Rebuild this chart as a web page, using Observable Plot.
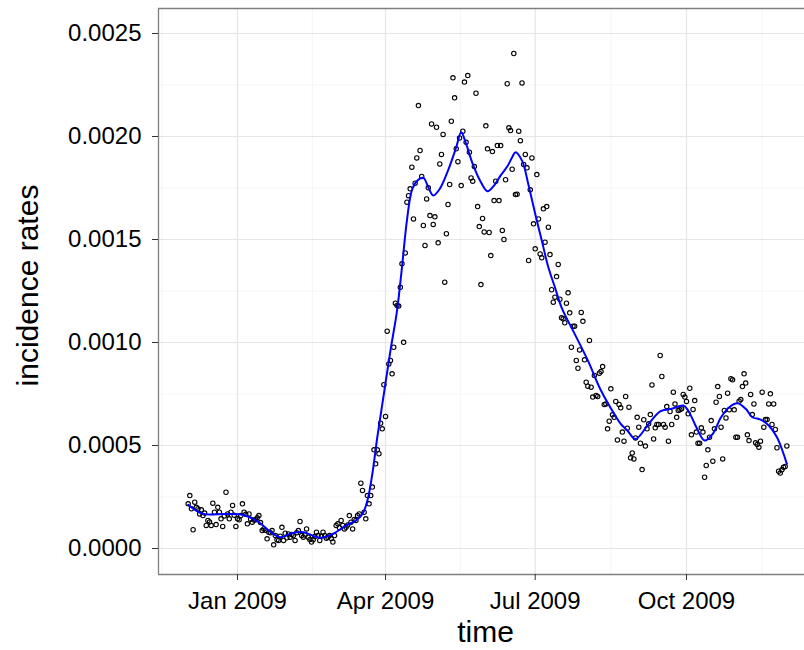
<!DOCTYPE html>
<html>
<head>
<meta charset="utf-8">
<script src="https://cdn.jsdelivr.net/npm/d3@7"></script>
<script src="https://cdn.jsdelivr.net/npm/@observablehq/plot@0.6"></script>
<style>
  body { margin: 0; background: #fff; }
  #chart svg { display: block; }
</style>
</head>
<body>
<div id="chart"></div>
<script>
// Daily incidence rates, one value per day starting on the date below.
const startDate = "2008-12-02";
const rates = [
  0.000217, 0.000257, 0.000193, 0.000091, 0.000225, 0.000200, 0.000193, 0.000168, 0.000188, 0.000160,
  0.000172, 0.000112, 0.000136, 0.000129, 0.000112, 0.000220, 0.000176, 0.000116, 0.000200, 0.000176,
  0.000144, 0.000107, 0.000158, 0.000273, 0.000168, 0.000144, 0.000176, 0.000209, 0.000162, 0.000107,
  0.000144, 0.000139, 0.000160, 0.000217, 0.000176, 0.000166, 0.000120, 0.000168, 0.000142, 0.000128,
  0.000138, 0.000139, 0.000149, 0.000160, 0.000126, 0.000087, 0.000095, 0.000089, 0.000047, 0.000079,
  0.000076, 0.000087, 0.000018, 0.000063, 0.000042, 0.000039, 0.000060, 0.000103, 0.000039, 0.000074,
  0.000052, 0.000071, 0.000055, 0.000068, 0.000063, 0.000039, 0.000077, 0.000087, 0.000131, 0.000063,
  0.000055, 0.000066, 0.000095, 0.000055, 0.000044, 0.000031, 0.000042, 0.000058, 0.000079, 0.000063,
  0.000039, 0.000059, 0.000079, 0.000063, 0.000050, 0.000055, 0.000063, 0.000048, 0.000031, 0.000063,
  0.000112, 0.000120, 0.000101, 0.000136, 0.000112, 0.000095, 0.000103, 0.000114, 0.000160, 0.000128,
  0.000095, 0.000141, 0.000136, 0.000160, 0.000168, 0.000317, 0.000282, 0.000176, 0.000144, 0.000257,
  0.000217, 0.000257, 0.000298,
  0.000479, 0.000411, 0.000479, 0.000460, 0.000608, 0.000581, 0.000795, 0.000641, 0.001055, 0.000896,
  0.000913, 0.000848, 0.000977, 0.001191, 0.001180, 0.001177, 0.001268, 0.001382, 0.001001, 0.001435,
  0.001681, 0.001713, 0.001746, 0.001851, 0.001600, 0.001773, 0.001896, 0.002150, 0.001932, 0.001806,
  0.001568, 0.001471, 0.001697, 0.001751, 0.001616, 0.002061, 0.001573, 0.001610, 0.002045, 0.001484,
  0.001867, 0.001913, 0.002010, 0.001293, 0.001528, 0.001670, 0.001767, 0.002074, 0.002285, 0.002188,
  0.001940, 0.001878, 0.001993, 0.001762, 0.002026, 0.002264, 0.001972, 0.002296, 0.001924, 0.001799,
  0.001783, 0.001854, 0.002210, 0.001660, 0.001563, 0.001281, 0.001602, 0.001537, 0.002052, 0.001940,
  0.001534, 0.001422, 0.001927, 0.001689, 0.001783, 0.001956, 0.001689, 0.001956, 0.001544, 0.001500,
  0.001790, 0.002256, 0.002042, 0.002029, 0.001841, 0.002403, 0.001718, 0.001720, 0.002026, 0.001980,
  0.002260, 0.001864, 0.001913, 0.001848, 0.001398, 0.001741, 0.001896, 0.001576, 0.001455, 0.001815,
  0.001600, 0.001430, 0.001411, 0.001649, 0.001487, 0.001660, 0.001560, 0.001427, 0.001256, 0.001196,
  0.001220, 0.001320, 0.001379, 0.001210, 0.001120,
  0.001115, 0.001096, 0.001191, 0.001241, 0.001144, 0.000977, 0.001079, 0.001079, 0.000913, 0.000875,
  0.000964, 0.001146, 0.001103,
  0.000916, 0.000807, 0.000788, 0.001010, 0.000783, 0.000735, 0.000840, 0.000743, 0.000738, 0.000851,
  0.000859, 0.000883, 0.000699, 0.000702, 0.000581, 0.000618, 0.000775, 0.000649, 0.000637, 0.000714,
  0.000527, 0.000699, 0.000683, 0.000565, 0.000521, 0.000738, 0.000584, 0.000686, 0.000440, 0.000464,
  0.000435, 0.000537, 0.000637, 0.000589, 0.000511, 0.000383, 0.000625, 0.000497, 0.000581, 0.000605,
  0.000650, 0.000794, 0.000532, 0.000586, 0.000602, 0.000602, 0.000937, 0.000835, 0.000602, 0.000589,
  0.000689, 0.000521, 0.000665, 0.000602, 0.000759, 0.000702, 0.000637, 0.000670, 0.000673, 0.000678,
  0.000748, 0.000735, 0.000714, 0.000654, 0.000778, 0.000552, 0.000675, 0.000718, 0.000565, 0.000511,
  0.000511, 0.000586, 0.000565, 0.000346, 0.000403, 0.000479, 0.000540, 0.000621, 0.000424, 0.000581,
  0.000710, 0.000786, 0.000738, 0.000589, 0.000435, 0.000670, 0.000634, 0.000754, 0.000673, 0.000824,
  0.000819, 0.000673, 0.000540, 0.000540, 0.000715, 0.000723, 0.000786, 0.000848, 0.000803, 0.000552,
  0.000524, 0.000748, 0.000650, 0.000702, 0.000513, 0.000505, 0.000492, 0.000521, 0.000759, 0.000589,
  0.000626, 0.000626, 0.000702, 0.000751, 0.000602, 0.000702, 0.000578, 0.000489, 0.000375, 0.000366,
  0.000382, 0.000395, 0.000398, 0.000498
];

// Smoothed trend: day index (from startDate) and fitted rate.
const smoothDay = [
  0, 9, 23, 33, 43, 49, 56, 63, 70, 80, 88, 96, 102, 106, 109, 112, 115, 119, 123, 127,
  130, 133, 136, 139, 143, 146, 149, 153, 158, 163, 166, 169, 173, 178, 182, 186, 190, 194, 197, 199,
  203, 207, 211, 215, 219, 223, 227, 235, 243, 251, 259, 263, 267, 272, 280, 287, 294, 301, 304, 309,
  314, 319, 324, 329, 334, 339, 343, 348, 353, 358, 362, 364
];
const smoothRate = [
  0.000212, 0.000168, 0.000168, 0.000164, 0.000128, 0.000087, 0.000055, 0.000074, 0.000079, 0.000052,
  0.000071, 0.000112, 0.000136, 0.000168, 0.000233, 0.000363, 0.000540, 0.000751, 0.000961, 0.001155,
  0.001365, 0.001592, 0.001738, 0.001783, 0.001799, 0.001754, 0.001714, 0.001746, 0.001835, 0.001948,
  0.002021, 0.001964, 0.001867, 0.001778, 0.001734, 0.001762, 0.001811, 0.001854, 0.001899, 0.001924,
  0.001883, 0.001762, 0.001625, 0.001495, 0.001365, 0.001268, 0.001171, 0.001042, 0.000913, 0.000767,
  0.000654, 0.000605, 0.000573, 0.000532, 0.000605, 0.000666, 0.000678, 0.000694, 0.000670, 0.000589,
  0.000524, 0.000557, 0.000637, 0.000686, 0.000705, 0.000678, 0.000637, 0.000626, 0.000597, 0.000540,
  0.000460, 0.000411
];

// Axis ticks and grid positions
const yTicks = [0, 0.0005, 0.0010, 0.0015, 0.0020, 0.0025];
const yMinor = [0.00025, 0.00075, 0.00125, 0.00175, 0.00225];
const xTicks = ["2009-01-01", "2009-04-01", "2009-07-01", "2009-10-01"];
const xTickLabels = ["Jan 2009", "Apr 2009", "Jul 2009", "Oct 2009"];
const xMinor = ["2008-11-16", "2009-02-15T12:00Z", "2009-05-16T12:00Z", "2009-08-16", "2009-11-16"];

const DAY = 86400000;
const t0 = Date.parse(startDate);
const points = rates.map((rate, i) => ({date: new Date(t0 + i * DAY), rate}));
const smooth = smoothDay.map((d, i) => ({date: new Date(t0 + d * DAY), rate: smoothRate[i]}));
const toDate = (s) => new Date(s.length === 10 ? s + "T00:00Z" : s);
const xTickDates = xTicks.map(toDate);
const xMinorDates = xMinor.map(toDate);
const tickLabel = new Map(xTickDates.map((d, i) => [+d, xTickLabels[i]]));

const xDomain = [new Date(Date.UTC(2008, 10, 13, 23, 12)), new Date(Date.UTC(2009, 11, 11, 17, 54))];
const yDomain = [-0.0001262, 0.0026214];

const FONT = "'Liberation Sans', Arial, Helvetica, sans-serif";
const TICK_SIZE = 24;
const TITLE_SIZE = 30;

const chart = Plot.plot({
  width: 804,
  height: 650,
  marginLeft: 158,
  marginRight: 0,
  marginTop: 8,
  marginBottom: 76,
  style: {fontFamily: FONT, background: "#fff", overflow: "visible"},
  x: {type: "utc", domain: xDomain},
  y: {domain: yDomain},
  marks: [
    // minor grid
    Plot.ruleX(xMinorDates, {stroke: "#f6f6f6", strokeWidth: 1.2}),
    Plot.ruleY(yMinor, {stroke: "#f6f6f6", strokeWidth: 1.2}),
    // major grid
    Plot.ruleX(xTickDates, {stroke: "#e5e5e5", strokeWidth: 1.2}),
    Plot.ruleY(yTicks, {stroke: "#e5e5e5", strokeWidth: 1.2}),
    // observations
    Plot.dot(points, {x: "date", y: "rate", r: 2.2, stroke: "#000", strokeWidth: 1.1, fill: "none"}),
    // smoothed trend
    Plot.line(smooth, {x: "date", y: "rate", stroke: "#0000ff", strokeWidth: 2, curve: "catmull-rom"}),
    // panel border (left, top, bottom)
    Plot.ruleX([xDomain[0]], {stroke: "#7f7f7f", strokeWidth: 1.3}),
    Plot.ruleY([yDomain[0], yDomain[1]], {stroke: "#7f7f7f", strokeWidth: 1.3}),
    // axes
    Plot.axisY(yTicks, {
      anchor: "left", tickSize: 6, tickPadding: 11, stroke: "#333", fill: "#000",
      fontSize: TICK_SIZE, tickFormat: d3.format(".4f"), label: null
    }),
    Plot.axisX(xTickDates, {
      anchor: "bottom", tickSize: 6, tickPadding: 11, stroke: "#333", fill: "#000",
      fontSize: TICK_SIZE, tickFormat: (d) => tickLabel.get(+d), label: null
    }),
    // axis titles
    Plot.text(["time"], {
      frameAnchor: "bottom", textAnchor: "middle", lineAnchor: "middle",
      dx: 4, dy: 58, fontSize: TITLE_SIZE, fill: "#000"
    }),
    Plot.text(["incidence rates"], {
      frameAnchor: "left", textAnchor: "middle", lineAnchor: "middle",
      dx: -130, dy: -6, rotate: -90, fontSize: TITLE_SIZE, fill: "#000"
    })
  ]
});

document.getElementById("chart").appendChild(chart);
</script>
</body>
</html>
